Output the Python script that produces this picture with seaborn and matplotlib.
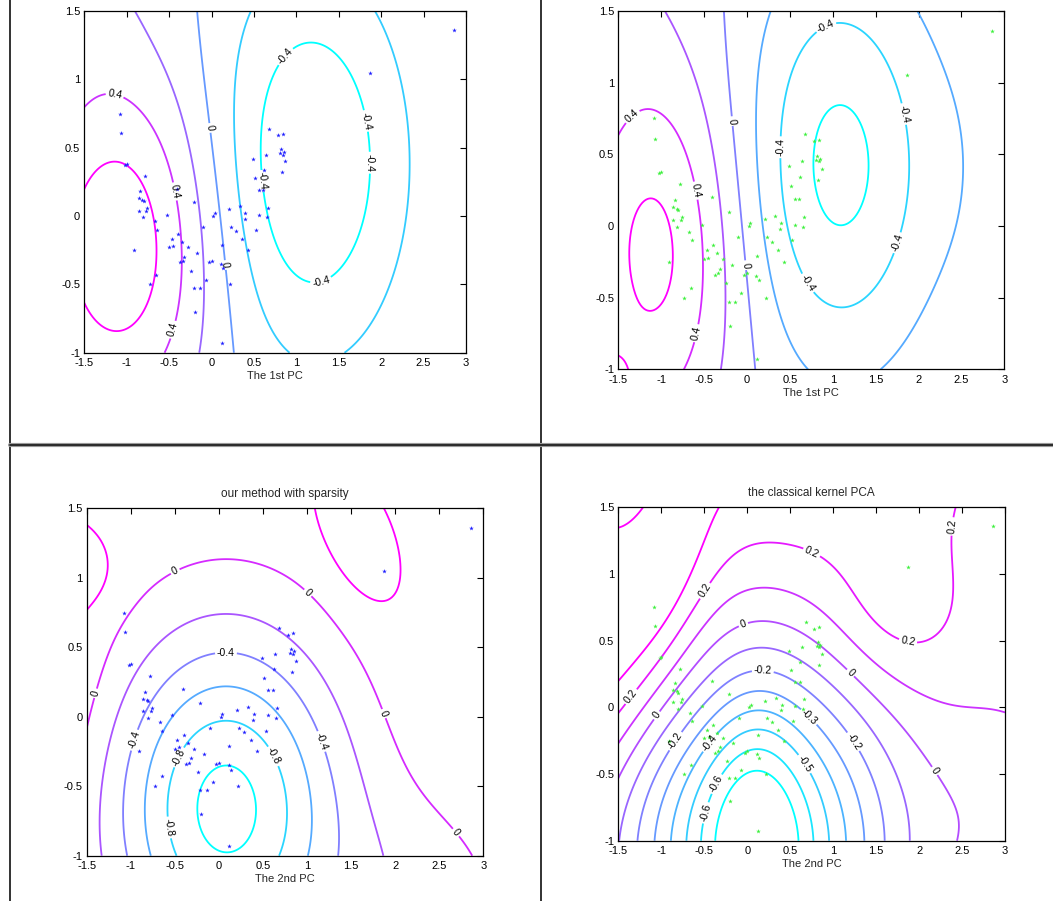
import numpy as np
import matplotlib
matplotlib.use("Agg")
import matplotlib.pyplot as plt
from matplotlib.ticker import FuncFormatter
import seaborn as sns

# data points (same set in all four panels)
pts_x = [-1.08, -1.07, -1.0, -1.02, -0.84, -0.86, -0.82, -0.80, -0.86, -0.77, -0.76, -0.81,
         -0.91, -0.67, -0.64, -0.53, -0.73, -0.65, -0.47, -0.5, -0.45, -0.4, -0.35, -0.37,
         -0.34, -0.32, -0.28, -0.24, -0.21, -0.14, -0.2, -0.21, -0.17, -0.1, -0.07, -0.03,
         0.0, 0.02, 0.04, 0.12, 0.11, 0.14, 0.12, 0.21, 0.23, 0.29, 0.33, 0.36, 0.39, 0.4,
         0.43, 0.49, 0.51, 0.53, 0.56, 0.56, 0.61, 0.62, 0.64, 0.66, 0.65, 0.68, 0.78, 0.84,
         0.81, 0.82, 0.85, 0.84, 0.87, 0.83, 1.87, 2.86, -0.41, -0.78, 0.22]
pts_y = [0.75, 0.61, 0.38, 0.37, 0.18, 0.13, 0.12, 0.11, 0.04, 0.04, 0.06, -0.01,
         -0.25, -0.04, -0.1, 0.01, -0.5, -0.43, -0.17, -0.23, -0.22, -0.13, -0.19, -0.34,
         -0.33, -0.3, -0.23, -0.4, -0.53, -0.53, -0.7, 0.1, -0.27, -0.08, -0.47, -0.34,
         -0.33, 0.0, 0.02, -0.21, -0.35, -0.38, -0.93, 0.05, -0.08, -0.11, 0.07, -0.17, -0.02, 0.02,
         -0.25, 0.42, 0.28, -0.1, 0.19, 0.01, 0.19, 0.34, 0.45, 0.06, -0.01, 0.64, 0.59, 0.6,
         0.46, 0.49, 0.47, 0.45, 0.4, 0.32, 1.05, 1.36, 0.2, 0.29, -0.5]

# field components: amplitude, centre, spread, rotation
tl_base = 0.0
tl_amp = [0.75, -0.6, 0.15]
tl_cx = [-1.1, 1.15, -1.6]
tl_cy = [-0.22, 0.38, 1.7]
tl_sx = [0.8, 0.8, 0.6]
tl_sy = [0.95, 1.0, 0.5]
tl_ang = [0, 0, 0]
tl_levels = [-0.4, -0.2, 0.0, 0.2, 0.4, 0.6]

tr_base = 0.0
tr_amp = [0.66, -0.66, 0.6, 0.12, -0.08]
tr_cx = [-1.08, 1.07, -1.75, -1.6, 2.7]
tr_cy = [-0.18, 0.42, -1.3, 1.8, 0.4]
tr_sx = [0.7, 0.8, 0.3, 0.6, 0.4]
tr_sy = [1.0, 1.0, 0.3, 0.5, 1.0]
tr_ang = [0, 0, 0, 0, 0]
tr_levels = [-0.6, -0.4, -0.2, 0.0, 0.2, 0.4, 0.6]

bl_base = 0.17
bl_amp = [-1.24, 0.22, 0.3, 0.2, -0.25]
bl_cx = [0.08, -2.3, -1.75, 1.55, 2.3]
bl_cy = [-0.66, 0.2, 1.05, 1.25, -1.4]
bl_sx = [0.95, 0.6, 0.3, 0.4, 0.8]
bl_sy = [0.9, 0.7, 0.17, 0.23, 0.6]
bl_ang = [0, 0, 0, -48, 0]
bl_levels = [-1.0, -0.8, -0.6, -0.4, -0.2, 0.0, 0.2]

br_base = 0.27
br_amp = [-0.2, -0.95, 0.14, 0.2, 0.06, -0.1, -0.2, 0.08, 0.06]
br_cx = [0.10, 0.12, -0.95, -1.9, -0.9, 2.9, 3.2, 1.7, 0.3]
br_cy = [-1.05, -1.05, 0.95, 0.3, 0.35, 1.35, -0.8, 0.7, 2.0]
br_sx = [0.4, 1.2, 0.55, 0.6, 0.5, 0.6, 0.8, 0.5, 1.2]
br_sy = [0.8, 1.05, 0.3, 0.6, 0.5, 0.7, 0.8, 0.4, 0.5]
br_ang = [0, 0, 50, 0, 0, 0, 0, 0, 0]
br_levels = [-0.7, -0.6, -0.5, -0.4, -0.3, -0.2, -0.1, 0.0, 0.1, 0.2, 0.3]

# label anchor points for clabel
tl_lab = [(-1.1, 1.02), (-0.43, 0.18), (-0.35, -0.85), (-0.08, 0.64), (0.14, -0.36),
          (0.49, 0.25), (0.81, 1.2), (1.3, -0.5), (1.77, 0.69), (1.81, 0.39)]
tr_lab = [(-1.42, 0.82), (-0.57, 0.25), (-0.43, -0.77), (-0.2, 0.73), (0.05, -0.27),
          (0.33, 0.55), (0.93, 1.38), (0.73, -0.39), (1.82, 0.78), (1.82, -0.13)]
bl_lab = [(-0.42, 0.95), (0.83, 0.77), (1.78, 0.0), (2.62, -0.87), (-1.35, 0.16),
          (0.08, 0.47), (-0.95, -0.17), (1.11, -0.19), (-0.46, -0.29), (0.6, -0.29), (-0.6, -0.8)]
br_lab = [(-1.33, 0.07), (-1.01, -0.08), (-0.82, -0.26), (-0.41, 0.84), (-0.05, 0.63),
          (0.19, 0.36), (0.69, -0.09), (0.63, -0.44), (-0.47, -0.25), (-0.4, -0.56),
          (-0.49, -0.79), (1.22, 0.27), (1.23, -0.26), (2.13, -0.5), (1.89, 0.56),
          (2.33, 1.36), (0.72, 1.12)]

gx = np.linspace(-1.5, 3, 226)
gy = np.linspace(-1, 1.5, 126)
XX, YY = np.meshgrid(gx, gy)


def make_field(base, amp, cx, cy, sx, sy, ang):
    Z = np.full(XX.shape, base, dtype=float)
    for a, x0, y0, s1, s2, t in zip(amp, cx, cy, sx, sy, ang):
        th = np.deg2rad(t)
        dx = XX - x0
        dy = YY - y0
        u = dx * np.cos(th) + dy * np.sin(th)
        v = -dx * np.sin(th) + dy * np.cos(th)
        Z += a * np.exp(-0.5 * ((u / s1) ** 2 + (v / s2) ** 2))
    return Z


def fmt_level(v):
    if abs(v) < 1e-9:
        return "0"
    return f"{round(v, 1):g}"


sns.set_style("white")
plt.rcParams["font.family"] = ["Liberation Sans", "DejaVu Sans"]
plt.rcParams["axes.unicode_minus"] = False

fig = plt.figure(figsize=(10.53, 9.01), dpi=100)
W, H = 1053.0, 901.0

# axes boxes in pixels: left, top, right, bottom
boxes = {
    "tl": (84.3, 11.0, 466.0, 352.7),
    "tr": (618.3, 11.0, 1004.3, 369.3),
    "bl": (86.7, 508.3, 483.3, 855.7),
    "br": (618.3, 507.3, 1005.0, 840.7),
}

panels = [
    ("tl", make_field(tl_base, tl_amp, tl_cx, tl_cy, tl_sx, tl_sy, tl_ang), tl_levels, tl_lab,
     "#1f1fff", "The 1st PC", None),
    ("tr", make_field(tr_base, tr_amp, tr_cx, tr_cy, tr_sx, tr_sy, tr_ang), tr_levels, tr_lab,
     "#3cf03c", "The 1st PC", None),
    ("bl", make_field(bl_base, bl_amp, bl_cx, bl_cy, bl_sx, bl_sy, bl_ang), bl_levels, bl_lab,
     "#1f1fff", "The 2nd PC", "our method with sparsity"),
    ("br", make_field(br_base, br_amp, br_cx, br_cy, br_sx, br_sy, br_ang), br_levels, br_lab,
     "#3cf03c", "The 2nd PC", "the classical kernel PCA"),
]

cmap = plt.get_cmap("cool")
for key, Z, levels, labpos, pcol, xlab, title in panels:
    l, t, r, b = boxes[key]
    ax = fig.add_axes([l / W, 1 - b / H, (r - l) / W, (b - t) / H])
    lo, hi = min(levels), max(levels)
    cols = [cmap((lv - lo) / (hi - lo)) for lv in levels]
    cs = ax.contour(XX, YY, Z, levels=levels, colors=cols, linewidths=1.3)
    ax.clabel(cs, levels, inline=True, inline_spacing=2, fontsize=7.5, colors="k",
              fmt=fmt_level, manual=labpos)
    sns.scatterplot(x=pts_x, y=pts_y, ax=ax, color=pcol, marker="*", s=12,
                    linewidth=0, legend=False, zorder=3)
    ax.set_xlim(-1.5, 3)
    ax.set_ylim(-1, 1.5)
    ax.set_xticks(np.arange(-1.5, 3.01, 0.5))
    ax.set_yticks(np.arange(-1, 1.51, 0.5))
    ax.xaxis.set_major_formatter(FuncFormatter(lambda v, p: f"{v:g}"))
    ax.yaxis.set_major_formatter(FuncFormatter(lambda v, p: f"{v:g}"))
    ax.tick_params(direction="in", length=4, width=0.8, top=True, right=True,
                   labelsize=8, colors="k")
    ax.tick_params(axis="x", pad=4)
    ax.tick_params(axis="y", pad=3)
    for sp in ax.spines.values():
        sp.set_color("k")
        sp.set_linewidth(0.9)
    ax.set_xlabel(xlab, fontsize=8, labelpad=2)
    if title:
        ax.set_title(title, fontsize=8.5, pad=8)

# table borders of the page the charts sit in
def fig_line(x0, y0, x1, y1, lw, c):
    fig.add_artist(plt.Line2D([x0 / W, x1 / W], [1 - y0 / H, 1 - y1 / H],
                              transform=fig.transFigure, color=c, lw=lw))

fig_line(9.5, 0, 9.5, H, 1.3, "#222222")
fig_line(541, 0, 541, H, 1.3, "#222222")
fig_line(9.5, 445.5, W, 445.5, 3.0, "#999999")
fig_line(9.5, 445.5, W, 445.5, 1.3, "#222222")

fig.savefig("out.png", dpi=100)
